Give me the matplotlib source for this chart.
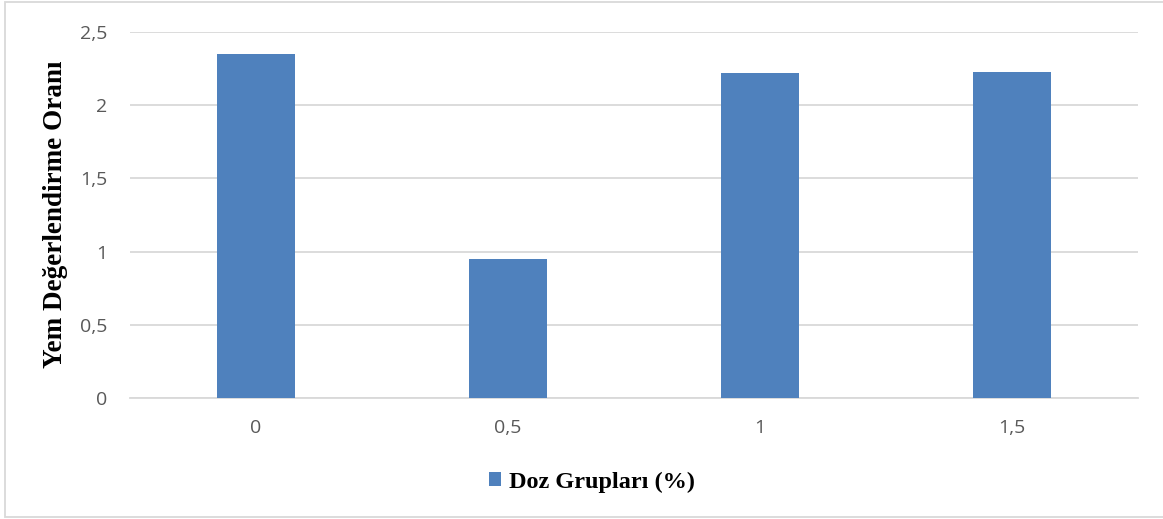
import matplotlib
matplotlib.use("Agg")
import matplotlib.pyplot as plt
from matplotlib.patches import Rectangle

categories = ["0", "0,5", "1", "1,5"]
values = [2.35, 0.95, 2.22, 2.23]
yticks = [0, 0.5, 1, 1.5, 2, 2.5]
ytick_labels = ["0", "0,5", "1", "1,5", "2", "2,5"]
series_name = "Doz Grupları (%)"
ylabel = "Yem Değerlendirme Oranı"

bar_color = "#4F81BD"
grid_color = "#D9D9D9"
tick_color = "#595959"

W, H = 1163, 519
fig = plt.figure(figsize=(W / 100, H / 100), dpi=100)
fig.patch.set_facecolor("white")

# chart area border
fig.patches.append(Rectangle((5 / W, 2 / H), 1 - 4 / W, 1 - 4 / H,
                             transform=fig.transFigure, fill=False,
                             edgecolor="#D9D9D9", linewidth=1.3))

ax = fig.add_axes([130 / W, 1 - 398 / H, 1008 / W, 366 / H])
x = list(range(len(categories)))
ax.bar(x, values, width=0.313, color=bar_color, zorder=3, label=series_name)

ax.set_xlim(-0.5, len(categories) - 0.5)
ax.set_ylim(0, 2.5)
ax.set_yticks(yticks)
ax.set_yticklabels(ytick_labels)
ax.set_xticks(x)
ax.set_xticklabels(categories)
ax.yaxis.grid(True, color=grid_color, linewidth=1.3, zorder=0)
ax.set_axisbelow(True)
for s in ["top", "right", "left"]:
    ax.spines[s].set_visible(False)
ax.spines["bottom"].set_color(grid_color)
ax.spines["bottom"].set_linewidth(1.3)
ax.tick_params(axis="both", length=0, labelsize=14, labelcolor=tick_color)
ax.tick_params(axis="y", pad=16.5)
ax.tick_params(axis="x", pad=15)
for t in ax.get_xticklabels() + ax.get_yticklabels():
    t.set_fontfamily("Open Sans")

fig.text(55 / W, 1 - 214 / H, ylabel, rotation=90, ha="center", va="center",
         fontfamily="Liberation Serif", fontweight="bold", fontsize=19.5)

leg = ax.legend(loc="center", bbox_to_anchor=(592 / W, 1 - 482 / H),
                bbox_transform=fig.transFigure, frameon=False,
                handlelength=0.5, handleheight=0.5, handletextpad=0.35,
                prop={"family": "Liberation Serif", "weight": "bold", "size": 17.5})

fig.savefig("out.png", dpi=100, facecolor="white")
